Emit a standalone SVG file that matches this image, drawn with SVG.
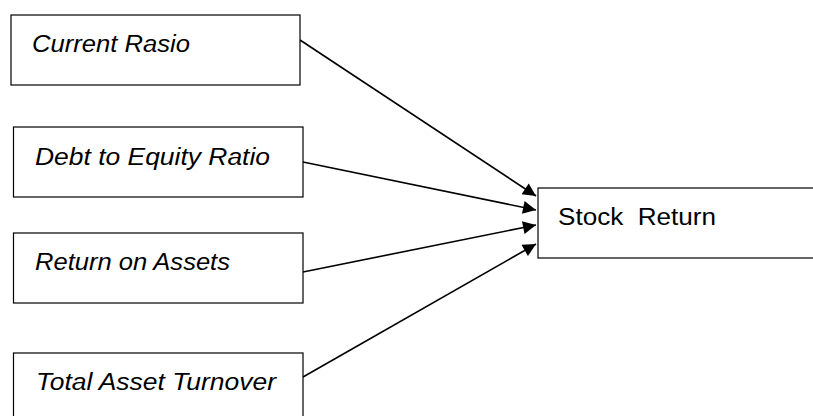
<svg xmlns="http://www.w3.org/2000/svg" width="813" height="416" viewBox="0 0 813 416">
<style>
.box{fill:#fff;stroke:#000;stroke-width:1.2}
.lbl{font-family:"Liberation Sans",Arial,sans-serif;font-size:23px;font-style:italic;fill:#000}
.out{font-family:"Liberation Sans",Arial,sans-serif;font-size:23px;fill:#000}
.edge{stroke:#000;stroke-width:1.6;fill:none;marker-end:url(#ah)}
</style>
<defs>
<marker id="ah" viewBox="0 0 10 10" refX="10" refY="5" markerWidth="16" markerHeight="13" markerUnits="userSpaceOnUse" orient="auto">
<path d="M0,0 L10,5 L0,10 Z" fill="#000"/>
</marker>
</defs>
<rect width="813" height="416" fill="#fff"/>
<g id="connectors">
<line class="edge" x1="300" y1="40" x2="536" y2="196"/>
<line class="edge" x1="303" y1="162" x2="536" y2="210"/>
<line class="edge" x1="303" y1="272" x2="536" y2="225"/>
<line class="edge" x1="303" y1="377" x2="536" y2="244"/>
</g>
<g id="n1"><rect class="box" x="11" y="15" width="289" height="70"/><text class="lbl" x="32" y="52" textLength="158" lengthAdjust="spacingAndGlyphs">Current Rasio</text></g>
<g id="n2"><rect class="box" x="13.5" y="127" width="289.5" height="70"/><text class="lbl" x="35" y="165" textLength="235" lengthAdjust="spacingAndGlyphs">Debt to Equity Ratio</text></g>
<g id="n3"><rect class="box" x="13.5" y="233" width="289.5" height="70"/><text class="lbl" x="35" y="270" textLength="195" lengthAdjust="spacingAndGlyphs">Return on Assets</text></g>
<g id="n4"><rect class="box" x="13.5" y="353" width="289.5" height="70"/><text class="lbl" x="36" y="390" textLength="240" lengthAdjust="spacingAndGlyphs">Total Asset Turnover</text></g>
<g id="n5"><rect class="box" x="538" y="188" width="300" height="70"/><text class="out" x="558" y="225" xml:space="preserve" textLength="158" lengthAdjust="spacingAndGlyphs">Stock  Return</text></g>
</svg>
